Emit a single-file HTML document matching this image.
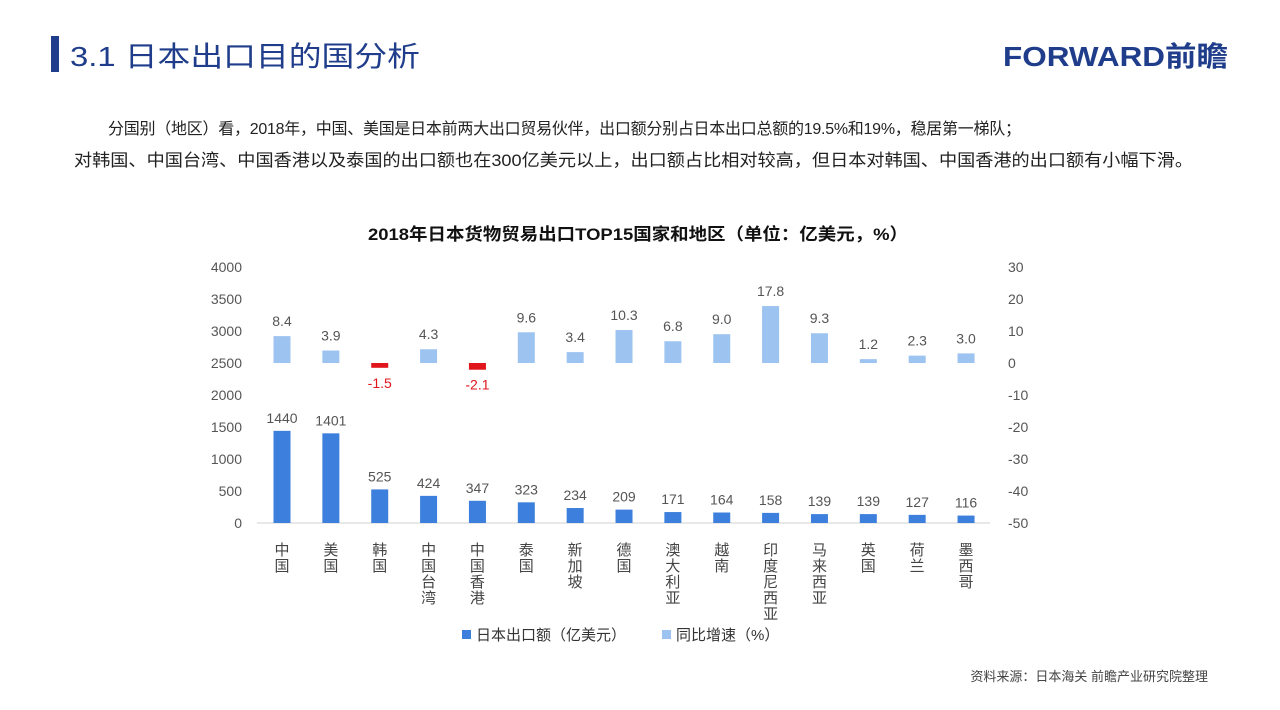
<!DOCTYPE html>
<html><head><meta charset="utf-8"><style>
body{margin:0;width:1280px;height:705px;background:#fff;overflow:hidden;font-family:"Liberation Sans","Noto Sans CJK SC",sans-serif;}
</style></head><body>
<svg width="1280" height="705" xmlns="http://www.w3.org/2000/svg" font-family="Liberation Sans, Noto Sans CJK SC, sans-serif">
<rect x="51" y="36" width="8" height="36" fill="#1f3d8a"/>
<text x="70" y="66" font-size="28" fill="#1f3d8a" textLength="350" lengthAdjust="spacingAndGlyphs">3.1 日本出口目的国分析</text>
<text x="1003" y="66" font-size="28" font-weight="bold" fill="#1f3d8a" textLength="225" lengthAdjust="spacingAndGlyphs">FORWARD前瞻</text>
<text x="108" y="134" font-size="16" fill="#222" textLength="913" lengthAdjust="spacing">分国别（地区）看，2018年，中国、美国是日本前两大出口贸易伙伴，出口额分别占日本出口总额的19.5%和19%，稳居第一梯队；</text>
<text x="74" y="166" font-size="17" fill="#222" textLength="1119" lengthAdjust="spacingAndGlyphs">对韩国、中国台湾、中国香港以及泰国的出口额也在300亿美元以上，出口额占比相对较高，但日本对韩国、中国香港的出口额有小幅下滑。</text>
<text x="368" y="240" font-size="17" font-weight="bold" fill="#111" textLength="540" lengthAdjust="spacingAndGlyphs">2018年日本货物贸易出口TOP15国家和地区（单位：亿美元，%）</text>
<g font-size="14" fill="#555" text-anchor="end">
<text x="242" y="272">4000</text><text x="242" y="336">3000</text><text x="242" y="304">3500</text>
<text x="242" y="368">2500</text><text x="242" y="400">2000</text><text x="242" y="432">1500</text>
<text x="242" y="464">1000</text><text x="242" y="496">500</text><text x="242" y="528">0</text>
</g>
<g font-size="14" fill="#555">
<text x="1008" y="272">30</text><text x="1008" y="304">20</text><text x="1008" y="336">10</text><text x="1008" y="368">0</text>
<text x="1008" y="400">-10</text><text x="1008" y="432">-20</text><text x="1008" y="464">-30</text><text x="1008" y="496">-40</text><text x="1008" y="528">-50</text>
</g>
<line x1="257" y1="523" x2="990" y2="523" stroke="#d0d0d0"/>
<g id="bars"></g>
<rect x="462" y="630" width="9" height="9" fill="#3d7fdc"/>
<text x="476" y="640" font-size="15" fill="#333">日本出口额（亿美元）</text>
<rect x="662" y="630" width="9" height="9" fill="#9dc3f0"/>
<text x="676" y="640" font-size="15" fill="#333">同比增速（%）</text>
<text x="1208" y="681" font-size="13" fill="#444" text-anchor="end">资料来源：日本海关   前瞻产业研究院整理</text>
</svg>
<script>
var v=[1440,1401,525,424,347,323,234,209,171,164,158,139,139,127,116];
var g=[8.4,3.9,-1.5,4.3,-2.1,9.6,3.4,10.3,6.8,9.0,17.8,9.3,1.2,2.3,3.0];
var n=["中国","美国","韩国","中国台湾","中国香港","泰国","新加坡","德国","澳大利亚","越南","印度尼西亚","马来西亚","英国","荷兰","墨西哥"];
var s="";
for(var i=0;i<15;i++){var c=282+48.86*i;var h=v[i]*0.064;
s+='<rect x="'+(c-8.5)+'" y="'+(523-h)+'" width="17" height="'+h+'" fill="#3d7fdc"/>';
s+='<text x="'+c+'" y="'+(523-h-8)+'" font-size="14" fill="#555" text-anchor="middle">'+v[i]+'</text>';
var gh=g[i]*3.2;
if(gh>0){s+='<rect x="'+(c-8.5)+'" y="'+(363-gh)+'" width="17" height="'+gh+'" fill="#9dc3f0"/>';
s+='<text x="'+c+'" y="'+(363-gh-10)+'" font-size="14" fill="#555" text-anchor="middle">'+g[i].toFixed(1)+'</text>';}
else{s+='<rect x="'+(c-8.5)+'" y="363" width="17" height="'+(-gh)+'" fill="#e0161c"/>';
s+='<text x="'+c+'" y="'+(363-gh+20)+'" font-size="14" fill="#e0161c" text-anchor="middle">'+g[i].toFixed(1)+'</text>';}
for(var k=0;k<n[i].length;k++)s+='<text x="'+c+'" y="'+(555+k*16)+'" font-size="15" fill="#444" text-anchor="middle">'+n[i][k]+'</text>';
}
document.getElementById("bars").innerHTML=s;
</script>
</body></html>
